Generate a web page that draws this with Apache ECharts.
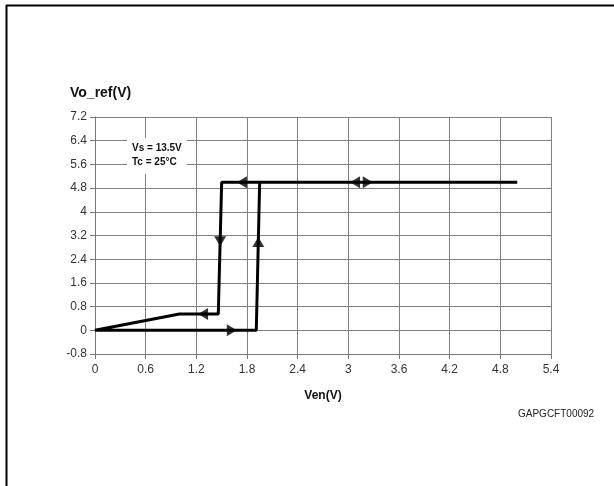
<!DOCTYPE html>
<html>
<head>
<meta charset="utf-8">
<script src="https://cdn.jsdelivr.net/npm/echarts@6/dist/echarts.min.js"></script>
<style>html,body{margin:0;padding:0;background:#fff}#c{width:614px;height:486px}</style>
</head>
<body>
<div id="c"></div>
<script>
// Hysteresis curve Vo_ref vs Ven (path order)
var curveX = [5.0, 1.5, 1.46, 1.0, 0, 1.91, 1.95];
var curveY = [5.0, 5.0, 0.55, 0.55, 0, 0, 5.0];
// direction arrows: position and direction
var arrowX = [1.62, 1.28, 1.482, 1.934, 1.74, 3.08, 3.23];
var arrowY = [0, 0.55, 3.01, 2.98, 5.0, 5.0, 5.0];
var arrowDir = ['right', 'left', 'down', 'up', 'left', 'left', 'right'];
var xTicks = ['0', '0.6', '1.2', '1.8', '2.4', '3', '3.6', '4.2', '4.8', '5.4'];
var yTicks = ['-0.8', '0', '0.8', '1.6', '2.4', '3.2', '4', '4.8', '5.6', '6.4', '7.2'];
var noteLines = ['Vs = 13.5V', 'Tc = 25°C'];
var yTitle = 'Vo_ref(V)';
var xTitle = 'Ven(V)';
var docCode = 'GAPGCFT00092';

var FONT = '"Liberation Sans", Arial, sans-serif';
var rot = {up: 0, left: 90, down: 180, right: -90};
function fmt(list) {
  return function (v) {
    var s = String(Number(v.toFixed(1)));
    return list.indexOf(s) >= 0 ? s : '';
  };
}
var curve = curveX.map(function (x, i) { return [x, curveY[i]]; });
var arrows = arrowX.map(function (x, i) { return {value: [x, arrowY[i]], symbolRotate: rot[arrowDir[i]]}; });

var chart = echarts.init(document.getElementById('c'), null, {renderer: 'canvas'});
chart.setOption({
  animation: false,
  backgroundColor: '#fff',
  grid: {left: 95, right: 63, top: 117, bottom: 132, containLabel: false},
  xAxis: {
    type: 'value', min: 0, max: 5.4, interval: 0.6,
    name: xTitle, nameLocation: 'middle', nameGap: 36,
    nameTextStyle: {fontFamily: FONT, fontWeight: 'bold', fontSize: 12, color: '#111'},
    axisLine: {show: true, onZero: false, lineStyle: {color: '#777', width: 1}},
    axisTick: {show: true, length: 5, lineStyle: {color: '#777'}},
    axisLabel: {fontFamily: FONT, fontSize: 12, color: '#333', margin: 10, formatter: fmt(xTicks)},
    splitLine: {show: true, lineStyle: {color: '#808080', width: 1}}
  },
  yAxis: {
    type: 'value', min: -0.8, max: 7.2, interval: 0.8,
    axisLine: {show: true, onZero: false, lineStyle: {color: '#777', width: 1}},
    axisTick: {show: true, length: 5, lineStyle: {color: '#777'}},
    axisLabel: {fontFamily: FONT, fontSize: 12, color: '#333', margin: 8, formatter: fmt(yTicks)},
    splitLine: {show: true, lineStyle: {color: '#808080', width: 1}}
  },
  series: [
    {
      type: 'line', data: curve, showSymbol: false, symbol: 'none',
      lineStyle: {color: '#000', width: 3}, z: 3
    },
    {
      type: 'scatter', data: arrows, symbol: 'triangle', symbolSize: [12, 10],
      itemStyle: {color: '#000'}, z: 4
    }
  ],
  graphic: [
    {type: 'line', shape: {x1: 6, y1: 5.5, x2: 614, y2: 5.5}, style: {stroke: '#000', lineWidth: 2}, z: 10},
    {type: 'line', shape: {x1: 6.5, y1: 5, x2: 6.5, y2: 486}, style: {stroke: '#000', lineWidth: 2}, z: 10},
    {type: 'text', left: 70, top: 86, style: {text: yTitle, font: 'bold 14px ' + FONT, fill: '#111'}},
    {type: 'rect', shape: {x: 127, y: 138, width: 60, height: 36}, style: {fill: '#fff'}, z: 5},
    {type: 'text', left: 132, top: 143, z: 6, style: {text: noteLines[0], font: 'bold 10px ' + FONT, fill: '#111'}},
    {type: 'text', left: 132, top: 157, z: 6, style: {text: noteLines[1], font: 'bold 10px ' + FONT, fill: '#111'}},
    {type: 'text', left: 518, top: 409, style: {text: docCode, font: '10px ' + FONT, fill: '#222'}}
  ]
});
</script>
</body>
</html>
